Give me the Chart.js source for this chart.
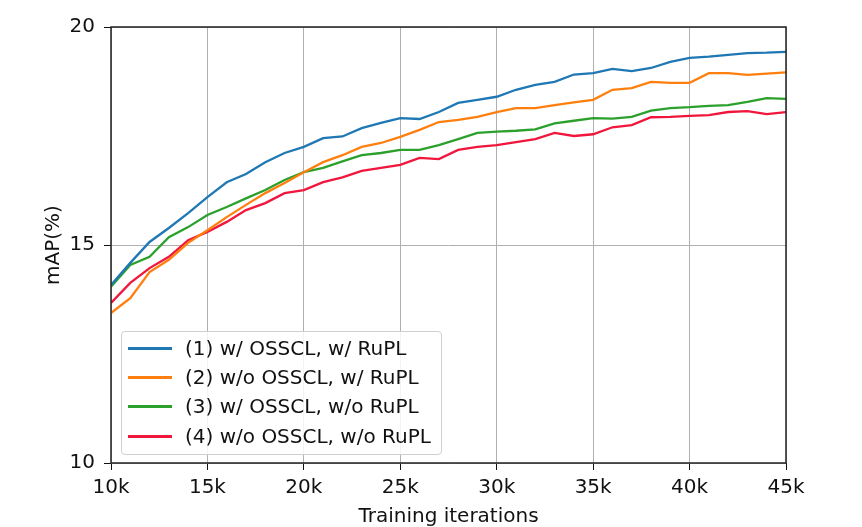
<!DOCTYPE html>
<html><head><meta charset="utf-8">
<script src="https://cdn.jsdelivr.net/npm/chart.js@4/dist/chart.umd.min.js"></script>
<style>
html,body{margin:0;padding:0;background:#fff;}
#wrap{position:relative;width:862px;height:527px;}
#legend{position:absolute;left:121px;top:331px;width:321px;height:124px;border:1px solid #d0d0d0;border-radius:4px;background:rgba(255,255,255,0.85);box-sizing:border-box;font-family:"DejaVu Sans",sans-serif;font-size:20px;color:#111;}
.row{position:absolute;left:6px;height:24px;line-height:24px;white-space:nowrap;}
.sw{display:inline-block;width:44px;height:0;border-top:3px solid;vertical-align:middle;margin-right:13px;position:relative;top:-1px;}
</style></head>
<body><div id="wrap"><canvas id="c" width="862" height="527"></canvas><div id="legend"></div></div>
<script>
const iterations = [10000,11000,12000,13000,14000,15000,16000,17000,18000,19000,20000,21000,22000,23000,24000,25000,26000,27000,28000,29000,30000,31000,32000,33000,34000,35000,36000,37000,38000,39000,40000,41000,42000,43000,44000,45000];
const seriesNames = ["(1) w/ OSSCL, w/ RuPL","(2) w/o OSSCL, w/ RuPL","(3) w/ OSSCL, w/o RuPL","(4) w/o OSSCL, w/o RuPL"];
const s1 = [14.08,14.59,15.07,15.39,15.73,16.10,16.44,16.63,16.90,17.11,17.25,17.45,17.49,17.68,17.80,17.91,17.89,18.05,18.26,18.33,18.40,18.56,18.67,18.74,18.91,18.94,19.04,18.99,19.06,19.20,19.29,19.32,19.36,19.40,19.41,19.43];
const s2 = [13.44,13.78,14.38,14.66,15.05,15.34,15.64,15.92,16.19,16.42,16.67,16.90,17.06,17.25,17.34,17.48,17.64,17.82,17.87,17.94,18.05,18.14,18.14,18.21,18.27,18.33,18.56,18.60,18.74,18.72,18.72,18.94,18.94,18.90,18.93,18.96];
const s3 = [14.04,14.54,14.73,15.18,15.41,15.69,15.87,16.07,16.26,16.49,16.67,16.77,16.92,17.06,17.11,17.18,17.18,17.29,17.43,17.57,17.60,17.62,17.65,17.79,17.85,17.91,17.90,17.94,18.08,18.14,18.16,18.19,18.21,18.28,18.37,18.35];
const s4 = [13.67,14.13,14.47,14.73,15.11,15.30,15.53,15.80,15.96,16.19,16.26,16.44,16.55,16.70,16.77,16.84,17.00,16.97,17.18,17.25,17.29,17.36,17.43,17.57,17.50,17.54,17.70,17.75,17.93,17.94,17.96,17.98,18.05,18.07,18.00,18.05];
const xTicks = [10000,15000,20000,25000,30000,35000,40000,45000];
const yTicks = [10,15,20];

const colors = ["#1f77b4","#ff7f0e","#2ca02c","#f0163c"];
const allSeries = [s1,s2,s3,s4];

const datasets = allSeries.map((s,i)=>({
  label: seriesNames[i],
  data: iterations.map((x,j)=>({x:x,y:s[j]})),
  borderColor: colors[i],
  backgroundColor: colors[i],
  borderWidth: 2.3,
  pointRadius: 0,
  tension: 0,
  fill: false
}));

const frame = {
  id:'frame',
  afterDraw(chart){
    const a = chart.chartArea, ctx = chart.ctx;
    ctx.save();
    ctx.strokeStyle = '#222';
    ctx.lineWidth = 1.5;
    ctx.strokeRect(a.left, a.top, a.right-a.left, a.bottom-a.top);
    ctx.restore();
  }
};

const font = {family:"DejaVu Sans", size:20};
new Chart(document.getElementById('c'), {
  type:'line',
  data:{datasets},
  options:{
    responsive:false,
    animation:false,
    layout:{padding:{left:42,right:76,top:27,bottom:0}},
    plugins:{legend:{display:false}, tooltip:{enabled:false}},
    scales:{
      x:{
        type:'linear', min:10000, max:45000,
        afterBuildTicks(scale){ scale.ticks = xTicks.map(v=>({value:v})); },
        afterFit(scale){ scale.height = 64; },
        ticks:{font, color:'#111', padding:6, maxRotation:0, callback:v=>(v/1000)+'k'},
        grid:{color:'#b0b0b0', lineWidth:1, tickColor:'#111', tickLength:7, drawTicks:true},
        border:{display:false},
        title:{display:true, text:'Training iterations', font:{family:"DejaVu Sans", size:20, lineHeight:1}, color:'#111', padding:{top:0,bottom:0}}
      },
      y:{
        min:10, max:20,
        afterBuildTicks(scale){ scale.ticks = yTicks.map(v=>({value:v})); },
        afterFit(scale){ scale.width = 69; },
        ticks:{font, color:'#111', padding:9},
        grid:{color:'#b0b0b0', lineWidth:1, tickColor:'#111', tickLength:7, drawTicks:true},
        border:{display:false},
        title:{display:true, text:'mAP(%)', font:{family:"DejaVu Sans", size:20}, color:'#111', padding:{top:0,bottom:0}}
      }
    }
  },
  plugins:[frame]
});

const leg = document.getElementById('legend');
seriesNames.forEach((n,i)=>{
  const r = document.createElement('div');
  r.className='row';
  r.style.top = (4 + i*29.2)+'px';
  r.innerHTML = '<span class="sw" style="border-color:'+colors[i]+'"></span>'+n;
  leg.appendChild(r);
});
</script></body></html>
